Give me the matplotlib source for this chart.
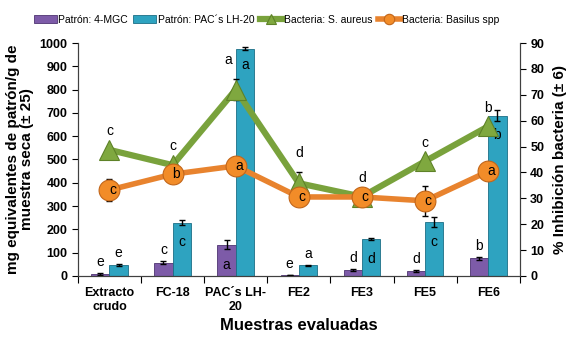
import matplotlib
matplotlib.use('Agg')
import matplotlib.pyplot as plt
import numpy as np

plt.rcParams['font.family'] = ['Liberation Sans', 'DejaVu Sans']

# datos
muestras = ['Extracto\ncrudo', 'FC-18', 'PAC´s LH-\n20', 'FE2', 'FE3', 'FE5', 'FE6']
mgc = [8, 57, 134, 3, 24, 22, 75]
mgc_err = [3, 6, 18, 1, 4, 4, 5]
mgc_let = ['e', 'c', 'a', 'e', 'd', 'd', 'b']
pac = [46, 229, 975, 45, 157, 231, 688]
pac_err = [3, 12, 6, 3, 5, 22, 25]
pac_let = ['e', 'c', 'a', 'a', 'd', 'c', 'b']
aureus = [48.7, 42.8, 72.0, 35.8, 30.6, 44.3, 57.8]
aureus_err = [0, 0, 4.2, 4.5, 0, 0, 0]
aureus_let = ['c', 'c', 'a', 'd', 'd', 'c', 'b']
basilus = [33.2, 39.3, 42.5, 30.5, 30.5, 29.0, 40.4]
basilus_err = [4.3, 0, 0, 0, 0, 5.8, 0]
basilus_let = ['c', 'b', 'a', 'c', 'c', 'c', 'a']

COL_MGC = '#7D5BA8'
COL_PAC = '#2EA3C0'
COL_GREEN = '#79A23C'
COL_ORANGE = '#E8832E'

fig = plt.figure(figsize=(5.86, 3.44), dpi=100)
ax = fig.add_axes([0.133, 0.198, 0.754, 0.677])
ax2 = ax.twinx()

x = np.arange(len(muestras))
w = 0.29

b1 = ax.bar(x - w / 2, mgc, w, color=COL_MGC, edgecolor='#4E3472', linewidth=0.6,
            label='Patrón: 4-MGC', zorder=2)
b2 = ax.bar(x + w / 2, pac, w, color=COL_PAC, edgecolor='#1C6F86', linewidth=0.6,
            label='Patrón: PAC´s LH-20', zorder=2)
ax.errorbar(x - w / 2, mgc, yerr=mgc_err, fmt='none', ecolor='black', elinewidth=1,
            capsize=2.5, capthick=1, zorder=3)
ax.errorbar(x + w / 2, pac, yerr=pac_err, fmt='none', ecolor='black', elinewidth=1,
            capsize=2.5, capthick=1, zorder=3)

# letras de las barras
for i in range(len(x)):
    # 4-MGC: dentro sólo en PAC
    if i == 2:
        ax.text(x[i] - w / 2, mgc[i] * 0.35, mgc_let[i], ha='center', va='center', fontsize=10)
    else:
        ax.text(x[i] - w / 2, mgc[i] + mgc_err[i] + 18, mgc_let[i], ha='center',
                va='bottom', fontsize=10)
    if pac[i] > 100:
        ax.text(x[i] + w / 2, pac[i] - 85 if i != 2 else pac[i] - 70, pac_let[i],
                ha='center', va='center', fontsize=10)
    else:
        ax.text(x[i] + w / 2, pac[i] + pac_err[i] + 18, pac_let[i], ha='center',
                va='bottom', fontsize=10)

l1, = ax2.plot(x, aureus, color=COL_GREEN, linewidth=4.5, marker='^', markersize=14,
               markerfacecolor='#7FA83F', markeredgecolor='#5E8228', markeredgewidth=0.8,
               label='Bacteria: S. aureus', zorder=4)
ax2.errorbar(x, aureus, yerr=aureus_err, fmt='none', ecolor='black', elinewidth=1,
             capsize=2.5, capthick=1, zorder=3)
l2, = ax2.plot(x, basilus, color=COL_ORANGE, linewidth=4, marker='o', markersize=15,
               markerfacecolor='#F28C28', markeredgecolor='#C2661A', markeredgewidth=0.8,
               label='Bacteria: Basilus spp', zorder=5)
ax2.errorbar(x, basilus, yerr=basilus_err, fmt='none', ecolor='black', elinewidth=1,
             capsize=2.5, capthick=1, zorder=4)

for i in range(len(x)):
    dx = -0.12 if i == 2 else 0
    ax2.text(x[i] + dx, aureus[i] + 4.5 + aureus_err[i], aureus_let[i], ha='center',
             va='bottom', fontsize=10, zorder=6)
    ax2.text(x[i] + 0.05, basilus[i], basilus_let[i], ha='center', va='center',
             fontsize=10, zorder=6)

ax.set_xlim(-0.5, len(x) - 0.5)
ax.set_ylim(0, 1000)
ax.set_yticks(np.arange(0, 1001, 100))
ax2.set_ylim(0, 90)
ax2.set_yticks(np.arange(0, 91, 10))

ax.set_xticks(np.arange(-0.5, len(x), 1.0))
ax.set_xticklabels([])
ax.set_xticks(x, minor=True)
ax.set_xticklabels(muestras, minor=True, fontweight='bold', fontsize=9)
ax.tick_params(axis='x', which='minor', length=0, pad=8)
ax.tick_params(axis='x', which='major', length=5, direction='out')
ax.tick_params(axis='y', length=4, labelsize=9)
ax2.tick_params(axis='y', length=4, labelsize=9)
for lab in ax.get_yticklabels() + ax2.get_yticklabels():
    lab.set_fontweight('bold')

for a in (ax, ax2):
    a.spines['top'].set_visible(False)
    a.spines['left'].set_color('#404040')
    a.spines['right'].set_color('#404040')
    a.spines['bottom'].set_color('#404040')

ax.set_ylabel('mg equivalentes de patrón/g de\nmuestra seca (± 25)', fontsize=11,
              fontweight='bold', labelpad=4, linespacing=1.0)
ax2.set_ylabel('% Inhibición bacteria (± 6)', fontsize=11, fontweight='bold', labelpad=6)
ax.set_xlabel('Muestras evaluadas', fontsize=12, fontweight='bold', labelpad=4)

fig.legend(handles=[b1, b2, l1, l2], loc='upper center', bbox_to_anchor=(0.455, 0.985),
           ncol=4, frameon=False, fontsize=7.5, handlelength=2.2, handletextpad=0.15,
           columnspacing=0.5, markerscale=0.5)

fig.savefig('out.png', dpi=100)
